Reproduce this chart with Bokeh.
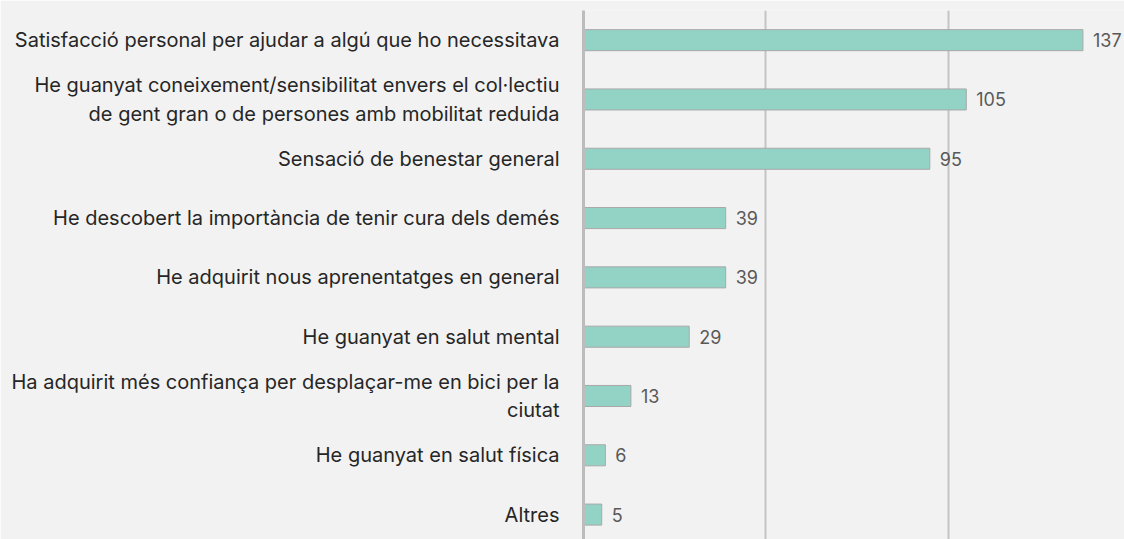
from bokeh.plotting import figure
from bokeh.models import Range1d, FixedTicker, ColumnDataSource, LabelSet
from bokeh.core.properties import value
from bokeh.embed import file_html
from bokeh.resources import INLINE

categories = [
    "Satisfacció personal per ajudar a algú que ho necessitava",
    "He guanyat coneixement/sensibilitat envers el col·lectiu\nde gent gran o de persones amb mobilitat reduida",
    "Sensació de benestar general",
    "He descobert la importància de tenir cura dels demés",
    "He adquirit nous aprenentatges en general",
    "He guanyat en salut mental",
    "Ha adquirit més confiança per desplaçar-me en bici per la\nciutat",
    "He guanyat en salut física",
    "Altres",
]
values = [137, 105, 95, 39, 39, 29, 13, 6, 5]
x_ticks = [0, 50, 100, 150]

BG = "#f2f2f2"
FONT = "Inter"

pos = list(range(len(categories)))
src = ColumnDataSource(dict(y=pos, v=values, lab=[str(v) for v in values]))

p = figure(width=1124, height=539, output_backend="svg", toolbar_location=None,
           x_range=Range1d(0, 148.4), y_range=Range1d(8.42, -0.5),
           min_border_left=583, min_border_right=0, min_border_top=10, min_border_bottom=0,
           background_fill_color=BG, border_fill_color=BG, outline_line_color=None)

p.hbar(y="y", right="v", left=0, height=0.355, source=src,
       fill_color="#93d3c6", line_color="#a8a8a8", line_width=1)

labels = LabelSet(x="v", y="y", text="lab", source=src, x_offset=10, y_offset=0,
                  text_baseline="middle", text_align="left",
                  text_font=value(FONT), text_font_size=value("18px"), text_color=value("#595959"))
p.add_layout(labels)

p.xaxis.visible = False
p.xgrid.ticker = FixedTicker(ticks=x_ticks)
p.xgrid.grid_line_color = "#c4c4c4"
p.xgrid.grid_line_width = 2
p.ygrid.visible = False

yax = p.yaxis[0]
yax.ticker = FixedTicker(ticks=pos)
yax.major_label_overrides = {i: c for i, c in zip(pos, categories)}
yax.major_tick_line_color = None
yax.minor_tick_line_color = None
yax.axis_line_color = "#bcbcbc"
yax.axis_line_width = 3
yax.major_label_standoff = 18
yax.major_label_text_font = FONT
yax.major_label_text_font_size = "20px"
yax.major_label_text_color = "#262626"
yax.major_label_text_align = "right"

html = file_html(p, INLINE)
open("out.html", "w").write(html)
